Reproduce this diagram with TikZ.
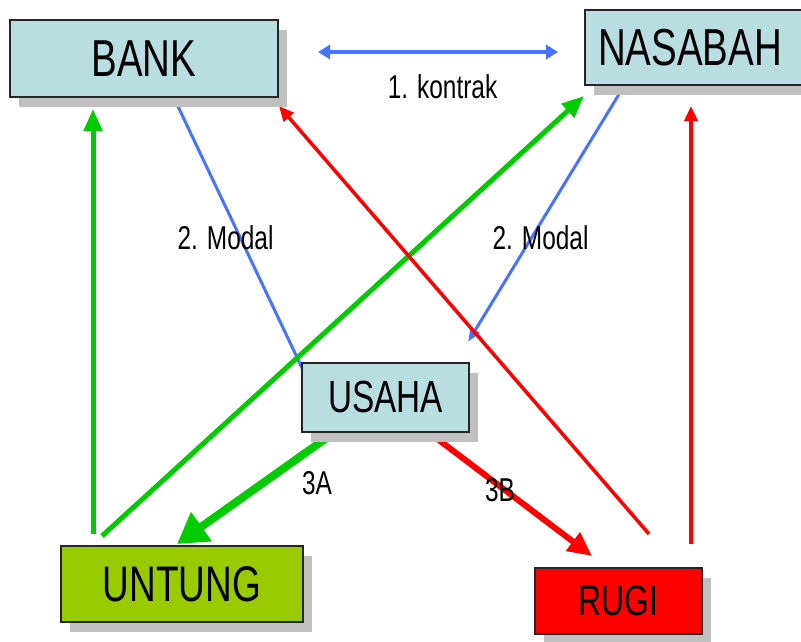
\documentclass[tikz,border=0pt]{standalone}
\usepackage{fontspec}
\setmainfont{Liberation Sans}
\newfontfamily\narrowfont[FakeStretch=0.74]{Liberation Sans}
\usetikzlibrary{arrows.meta,shadows,calc}
\pgfdeclarelayer{background}
\pgfsetlayers{background,main}
\definecolor{boxblue}{RGB}{184,222,226}
\definecolor{boxgreen}{RGB}{153,204,0}
\definecolor{boxred}{RGB}{255,0,0}
\definecolor{shadowgray}{RGB}{192,192,192}
\definecolor{lineblue}{RGB}{70,115,255}
\definecolor{linegreen}{RGB}{0,204,0}
\definecolor{linered}{RGB}{255,0,0}
\tikzset{
  mainbox/.style={draw=black!85, line width=2pt, rectangle, inner sep=0pt,
    drop shadow={shadow xshift=9pt, shadow yshift=-10pt, fill=shadowgray, opacity=1}},
  lbl/.style={inner sep=0pt, font=\narrowfont\fontsize{33}{38}\selectfont},
  bluethin/.style={draw=lineblue, line width=3pt},
  greenmid/.style={draw=linegreen, line width=5pt, -{Triangle[length=22pt,width=18pt]}},
  greenthick/.style={draw=linegreen, line width=8pt, -{Triangle[length=30pt,width=34pt]}},
  redthick/.style={draw=linered, line width=6pt, -{Triangle[length=24pt,width=22pt]}},
  redthin/.style={draw=linered, line width=3.5pt, -{Triangle[length=15pt,width=13pt]}}
}
\begin{document}
\begin{tikzpicture}[x=1pt,y=-1pt]
\useasboundingbox (0,0) rectangle (801,641);

\node[mainbox, fill=boxblue, minimum width=268pt, minimum height=77pt,
  font=\narrowfont\fontsize{52}{60}\selectfont] (bank) at (144,58.5) {BANK};
\node[mainbox, fill=boxblue, minimum width=220pt, minimum height=75pt,
  font=\narrowfont\fontsize{52}{60}\selectfont] (nasabah) at (695,47.5) {\hspace*{-10pt}NASABAH};
\node[mainbox, fill=boxblue, minimum width=167pt, minimum height=69pt,
  font=\narrowfont\fontsize{45}{52}\selectfont] (usaha) at (385.5,397.5) {USAHA};
\node[mainbox, fill=boxgreen, minimum width=242pt, minimum height=76pt,
  font=\narrowfont\fontsize{50}{58}\selectfont] (untung) at (182,584) {UNTUNG};
\node[mainbox, fill=boxred, minimum width=167pt, minimum height=66pt,
  font=\narrowfont\fontsize{43}{50}\selectfont] (rugi) at (618.5,601) {RUGI};

\coordinate (kL) at (318,52);
\coordinate (kR) at (558,52);
\coordinate (modtip) at (468,342);

\begin{pgfonlayer}{background}
  % 1. kontrak
  \draw[draw=lineblue, line width=3.5pt, {Triangle[length=12pt,width=14pt]}-{Triangle[length=12pt,width=14pt]}] (kL) -- (kR);
  % 2. Modal
  \draw[bluethin] ($(bank.south west)+(165,0)$) -- ($(usaha.north west)+(2,8)$);
  \draw[bluethin, -{Triangle[length=14pt,width=10pt]}] ($(nasabah.south west)+(40,0)$) -- (modtip);
  % green
  \draw[greenmid] ($(untung.north west)+(33,-11)$) -- ($(bank.south west)+(84,11)$);
  \draw[greenmid] ($(untung.north west)+(42,-9)$) -- ($(nasabah.south west)+(0,10)$);
  \draw[greenthick] ($(usaha.south west)+(38,-4)$) -- ($(untung.north west)+(117,-1)$);
  % red
  \draw[redthick] ($(usaha.south west)+(126,-2)$) -- ($(rugi.north west)+(58,-11)$);
  \draw[redthin] ($(rugi.north west)+(115,-33)$) -- ($(bank.south east)+(0,8)$);
  \draw[redthin] ($(rugi.north west)+(157,-23)$) -- ($(nasabah.south west)+(107,20)$);
\end{pgfonlayer}

\node[lbl] (kontrak) at (442.5,87) {1. kontrak};
\node[lbl] (modalL) at (225.5,238) {2. Modal};
\node[lbl] (modalR) at (540.5,238) {2. Modal};
\node[lbl] (tA) at (317,483) {3A};
\node[lbl] (tB) at (500,490) {3B};
\end{tikzpicture}
\end{document}
